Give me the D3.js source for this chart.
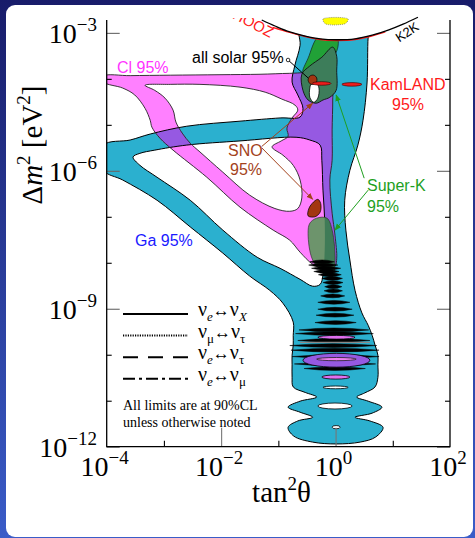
<!DOCTYPE html>
<html>
<head>
<meta charset="utf-8">
<script src="https://cdn.jsdelivr.net/npm/d3@7"></script>
<style>
  html, body { margin: 0; padding: 0; background: #1b1f6e; }
  svg { display: block; }
</style>
</head>
<body>
<svg id="chart" width="475" height="538"></svg>
<script>
// All region outlines are [log10 tan^2(theta), log10 dm^2] pairs
const GA_OUTER = [[-0.62,-2.83],[0.60,-2.83],[0.57,-3.09],[0.55,-4.09],[0.48,-4.90],[0.39,-5.44],[0.25,-5.99],[0.16,-6.64],[0.18,-7.29],[0.25,-7.94],[0.34,-8.60],[0.46,-9.09],[0.57,-9.36],[0.64,-9.58],[0.69,-9.79],[0.74,-10.01],[0.74,-10.22],[0.74,-10.49],[0.69,-10.70],[0.51,-10.83],[0.37,-10.92],[0.57,-11.01],[0.81,-11.14],[0.64,-11.27],[0.34,-11.36],[0.60,-11.44],[0.83,-11.58],[0.70,-11.79],[0.43,-11.90],[0.01,-11.94],[-0.40,-11.90],[-0.73,-11.77],[-0.83,-11.58],[-0.66,-11.44],[-0.40,-11.36],[-0.62,-11.25],[-0.83,-11.14],[-0.62,-11.01],[-0.33,-10.92],[-0.53,-10.82],[-0.74,-10.70],[-0.76,-10.49],[-0.76,-10.22],[-0.76,-10.01],[-0.74,-9.79],[-0.74,-9.58],[-0.74,-9.29],[-0.92,-8.88],[-1.15,-8.60],[-1.50,-8.29],[-1.97,-7.79],[-2.54,-7.22],[-3.12,-6.64],[-3.72,-6.20],[-4.05,-5.99],[-4.05,-5.44],[-3.59,-5.33],[-3.24,-5.20],[-2.60,-5.03],[-1.67,-4.92],[-0.97,-4.85],[-0.62,-4.83],[-0.57,-4.64],[-0.66,-4.35],[-0.76,-4.07],[-0.71,-3.70],[-0.62,-3.27]]
const GA_HOLE = [[-3.54,-5.70],[-3.42,-5.88],[-3.12,-6.14],[-2.54,-6.64],[-1.97,-7.29],[-1.37,-7.88],[-0.97,-8.12],[-0.62,-8.36],[-0.40,-8.51],[-0.27,-8.47],[-0.22,-8.27],[-0.19,-7.73],[-0.19,-7.07],[-0.22,-6.42],[-0.24,-5.77],[-0.27,-5.44],[-0.45,-5.33],[-0.69,-5.27],[-1.67,-5.35],[-2.60,-5.44],[-3.16,-5.55],[-3.42,-5.62]]

const CL_OUTER = [[-4.05,-3.94],[-3.59,-3.93],[-2.89,-3.92],[-2.02,-3.91],[-1.32,-3.90],[-0.80,-3.88],[-0.27,-3.88],[-0.06,-4.03],[-0.05,-4.46],[-0.06,-5.11],[-0.06,-5.77],[-0.10,-6.20],[-0.06,-6.92],[-0.01,-7.40],[0.02,-7.90],[-0.01,-8.07],[-0.19,-8.12],[-0.40,-8.03],[-0.62,-7.77],[-0.80,-7.51],[-1.09,-7.29],[-1.67,-6.79],[-2.25,-6.14],[-2.84,-5.55],[-3.07,-5.29],[-3.21,-5.05],[-3.24,-4.90],[-3.33,-4.64],[-3.51,-4.35],[-3.72,-4.20],[-4.05,-4.07]]
const CL_HOLE = [[-3.33,-4.14],[-2.89,-4.12],[-2.37,-4.12],[-1.67,-4.18],[-1.23,-4.29],[-0.94,-4.44],[-0.71,-4.57],[-0.66,-4.68],[-0.76,-4.85],[-0.85,-5.07],[-0.83,-5.25],[-0.95,-5.35],[-1.11,-5.48],[-0.92,-5.66],[-0.74,-5.88],[-0.62,-6.20],[-0.59,-6.59],[-0.66,-6.82],[-0.80,-6.88],[-1.06,-6.82],[-1.50,-6.53],[-1.97,-6.03],[-2.37,-5.59],[-2.54,-5.40],[-2.68,-5.18],[-2.79,-4.94],[-2.84,-4.68],[-2.98,-4.42],[-3.16,-4.25]]

const SUPERK_TOP = [[-0.29,-3.07],[0.02,-3.07],[0.01,-3.42],[-0.27,-3.64],[-0.57,-3.85],[-0.48,-3.55]]
const SOLAR_LMA = [[-0.05,-3.31],[0.02,-3.51],[0.02,-3.81],[0.01,-4.25],[-0.10,-4.40],[-0.22,-4.46],[-0.34,-4.53],[-0.48,-4.46],[-0.57,-4.25],[-0.59,-3.90],[-0.45,-3.72],[-0.24,-3.53]]
const SUPERK_LOW = [[-0.33,-7.03],[-0.15,-7.03],[-0.06,-7.29],[-0.01,-8.01],[-0.06,-8.31],[-0.19,-8.23],[-0.40,-7.94],[-0.48,-7.36],[-0.45,-7.14]]
const SNO_UPPER = [[-0.48,-4.03],[-0.45,-3.94],[-0.38,-3.92],[-0.33,-3.98],[-0.34,-4.09],[-0.43,-4.12]]
const SNO_GAP = [[-0.43,-4.12],[-0.34,-4.07],[-0.29,-4.20],[-0.31,-4.42],[-0.38,-4.51],[-0.45,-4.40],[-0.45,-4.20]]
const SNO_LOWER = [[-0.41,-6.71],[-0.31,-6.62],[-0.26,-6.71],[-0.27,-6.90],[-0.36,-7.00],[-0.48,-6.98],[-0.47,-6.83]]
const CHOOZ_TOP = [[-0.22,-2.70],[0.22,-2.70],[0.18,-2.79],[0.08,-2.82],[-0.13,-2.82],[-0.19,-2.79]]

// KamLAND islands: [tan lo, tan hi, dm]
const KAMLAND = [[-0.41,-0.08,-4.10],[0.11,0.46,-4.12]]

// vacuum oscillation streaks: [tan lo, tan hi, dm]
const VACUUM_STREAKS = [[-0.45,-0.02,-7.98],[-0.47,0.04,-8.05],[-0.42,0.09,-8.12],[-0.38,0.06,-8.19],[-0.30,0.10,-8.26],[-0.24,0.12,-8.34],[-0.22,0.13,-8.43],[-0.19,0.11,-8.52],[-0.20,0.12,-8.61],[-0.26,0.16,-8.72],[-0.31,0.25,-8.86],[-0.31,0.29,-9.01],[-0.34,0.32,-9.14],[-0.36,0.36,-9.30],[-0.64,0.58,-9.46],[-0.70,0.66,-9.54],[-0.66,0.60,-9.69],[-0.80,0.72,-9.80],[-0.78,0.76,-9.90],[-0.76,0.76,-10.04],[-0.72,0.70,-10.20],[-0.55,0.52,-10.30]]
// vacuum islands: [tan lo, tan hi, dm hi, dm lo]
const VACUUM_CL = [[-0.31,0.34,-9.58,-9.66],[-0.57,0.60,-9.97,-10.27],[-0.24,0.25,-10.44,-10.53]]
const VACUUM_CL_CORE = [[-0.33,0.36,-10.06,-10.13]]
const VACUUM_GAPS = [[-0.22,0.22,-10.68,-10.74],[-0.31,0.29,-11.05,-11.18],[-0.06,0.08,-11.54,-11.61]]
const VACUUM_GRAY = [[-0.62,0.60,-9.73]]

// reactor / accelerator limits
const K2K_LINE = [[-1.29,-2.72],[-1.06,-2.85],[-0.80,-2.98],[-0.53,-3.07],[-0.27,-3.13],[0.02,-3.15],[0.34,-3.13],[0.64,-3.05],[0.92,-2.94],[1.18,-2.81],[1.44,-2.66]]
const CHOOZ_LINE = [[-1.10,-2.88],[-0.80,-2.99],[-0.53,-3.08],[-0.27,-3.145],[0.02,-3.165],[0.34,-3.145],[0.64,-3.065],[0.87,-2.98]]

// arrows: [from tan, from dm, to tan, to dm]
const ARROWS_SOLAR = [[-0.83,-3.59,-0.48,-3.98]]
const ARROWS_SNO = [[-1.29,-5.47,-0.40,-4.53],[-1.29,-5.50,-0.40,-6.62]]
const ARROWS_SUPERK = [[0.50,-6.16,0.01,-4.35],[0.57,-6.42,-0.01,-7.29]]

const Y_DECADES = [-12,-11,-10,-9,-8,-7,-6,-5,-4,-3]
const Y_LABELS = [-12,-9,-6,-3]
const X_MINOR = [-3,-1,1]
const X_LONG = [-2,0]
const X_LABELS = [-4,-2,0,2]

const LEGEND_ROWS = [
    {a: "e", b: "X", italicB: true, dash: null},
    {a: "μ", b: "τ", italicB: false, dash: "1.2,1.2"},
    {a: "e", b: "τ", italicB: false, dash: "15,10"},
    {a: "e", b: "μ", italicB: false, dash: "12,4,3,4"}
]

const CYAN = "#2bb0cf"
const PINK = "#ff80ff"
const PURPLE = "#9659e2"
const SERIF = "'Liberation Serif', 'Times New Roman', serif"
const SANS = "'Liberation Sans', Arial, sans-serif"

const X_SCALE = d3.scaleLog().domain([1e-4, 1e2]).range([106.7, 450])
const Y_SCALE = d3.scaleLog().domain([1e-12, Math.pow(10, -2.72)]).range([446.7, 20])
const px = e => X_SCALE(Math.pow(10, e))
const py = e => Y_SCALE(Math.pow(10, e))
const toPoint = p => [px(p[0]), py(p[1])]

const ring = d3.line().curve(d3.curveCatmullRomClosed.alpha(0.5))
const regionPath = (...rings) => rings.map(r => ring(r.map(toPoint))).join("")

// pointed lens shape for one oscillation streak
function lens(d, h) {
    const x0 = px(d[0]), x1 = px(d[1]), y = py(d[2]), xm = (x0 + x1) / 2
    return `M${x0},${y}Q${xm},${y - 2 * h} ${x1},${y}Q${xm},${y + 2 * h} ${x0},${y}Z`
}

const svg = d3.select("#chart")
const defs = svg.append("defs")

const grad = defs.append("linearGradient").attr("id", "frameGrad")
    .attr("x1", 0).attr("y1", 0).attr("x2", 0).attr("y2", 1)
grad.append("stop").attr("offset", "0%").attr("stop-color", "#181c6a")
grad.append("stop").attr("offset", "100%").attr("stop-color", "#3a5cc8")

svg.append("rect").attr("width", 475).attr("height", 538).attr("fill", "url(#frameGrad)")
svg.append("rect").attr("x", 6).attr("y", 5).attr("width", 467).attr("height", 532)
    .attr("rx", 9).attr("fill", "white")

defs.append("clipPath").attr("id", "plotClip").append("rect")
    .attr("x", 106.7).attr("y", 15).attr("width", 343.3).attr("height", 431.7)
defs.append("clipPath").attr("id", "textClip").append("rect")
    .attr("x", 106.7).attr("y", 18).attr("width", 343.3).attr("height", 100)
defs.append("clipPath").attr("id", "gaClip").append("path")
    .attr("d", regionPath(GA_OUTER, GA_HOLE)).attr("clip-rule", "evenodd")

function addArrowHead(id, color) {
    defs.append("marker").attr("id", id)
        .attr("viewBox", "0 0 10 10").attr("refX", 9).attr("refY", 5)
        .attr("markerWidth", 7).attr("markerHeight", 7).attr("orient", "auto")
        .append("path").attr("d", "M0,1L10,5L0,9z").attr("fill", color)
}
addArrowHead("arrowSno", "#a3421c")
addArrowHead("arrowSk", "#1f9f1f")

const plot = svg.append("g").attr("clip-path", "url(#plotClip)")

// Ga and Cl regions
const gaD = regionPath(GA_OUTER, GA_HOLE)
const clD = regionPath(CL_OUTER, CL_HOLE)
plot.append("path").attr("d", gaD).attr("fill", CYAN).attr("fill-rule", "evenodd")
plot.append("path").attr("d", clD).attr("fill", PINK).attr("fill-rule", "evenodd")
plot.append("g").attr("clip-path", "url(#gaClip)")
    .append("path").attr("d", clD).attr("fill", PURPLE).attr("fill-rule", "evenodd")
plot.append("path").attr("d", gaD).attr("fill", "none").attr("stroke", "black").attr("stroke-width", 1)
plot.append("path").attr("d", clD).attr("fill", "none").attr("stroke", "#222").attr("stroke-width", 0.9)

// Super-K and all-solar regions
plot.append("path").attr("d", regionPath(SUPERK_TOP)).attr("fill", "#21a137")
    .attr("stroke", "#111").attr("stroke-width", 0.6)
plot.append("path").attr("d", regionPath(SOLAR_LMA)).attr("fill", "#3d7d5a")
    .attr("stroke", "#111").attr("stroke-width", 0.9)
plot.append("path").attr("d", regionPath(SUPERK_LOW)).attr("fill", "#6d946c")
plot.append("g").attr("clip-path", "url(#gaClip)")
    .append("path").attr("d", regionPath(SUPERK_LOW)).attr("fill", "#3f7b57")
plot.append("path").attr("d", regionPath(SUPERK_LOW)).attr("fill", "none")
    .attr("stroke", "#333").attr("stroke-width", 0.7)

// vacuum oscillation islands
plot.append("g").selectAll("path").data(VACUUM_STREAKS).join("path")
    .attr("d", d => lens(d, 1.9))
    .attr("fill", "black").attr("stroke", "black").attr("stroke-width", 0.5)

plot.append("g").selectAll("line").data(VACUUM_GRAY).join("line")
    .attr("x1", d => px(d[0])).attr("x2", d => px(d[1]))
    .attr("y1", d => py(d[2])).attr("y2", d => py(d[2]))
    .attr("stroke", "#8a8a8a").attr("stroke-width", 1.2)

plot.append("g").selectAll("ellipse").data(VACUUM_CL).join("ellipse")
    .attr("cx", d => (px(d[0]) + px(d[1])) / 2)
    .attr("cy", d => (py(d[2]) + py(d[3])) / 2)
    .attr("rx", d => (px(d[1]) - px(d[0])) / 2)
    .attr("ry", d => (py(d[3]) - py(d[2])) / 2)
    .attr("fill", (d, i) => i === 1 ? PURPLE : "#e070f0")
    .attr("stroke", "black").attr("stroke-width", 0.8)
plot.append("g").selectAll("ellipse").data(VACUUM_CL_CORE).join("ellipse")
    .attr("cx", d => (px(d[0]) + px(d[1])) / 2)
    .attr("cy", d => (py(d[2]) + py(d[3])) / 2)
    .attr("rx", d => (px(d[1]) - px(d[0])) / 2)
    .attr("ry", d => (py(d[3]) - py(d[2])) / 2)
    .attr("fill", "#ee80f0").attr("stroke", "#222").attr("stroke-width", 0.8)
plot.append("g").selectAll("ellipse").data(VACUUM_GAPS).join("ellipse")
    .attr("cx", d => (px(d[0]) + px(d[1])) / 2)
    .attr("cy", d => (py(d[2]) + py(d[3])) / 2)
    .attr("rx", d => (px(d[1]) - px(d[0])) / 2)
    .attr("ry", d => (py(d[3]) - py(d[2])) / 2)
    .attr("fill", "white")
    .attr("stroke", "black").attr("stroke-width", 0.8)

// SNO and KamLAND
plot.append("path").attr("d", regionPath(SNO_GAP)).attr("fill", "white")
    .attr("stroke", "black").attr("stroke-width", 0.8)
plot.append("path").attr("d", regionPath(SNO_UPPER)).attr("fill", "#a33612")
    .attr("stroke", "black").attr("stroke-width", 0.7)
plot.append("path").attr("d", regionPath(SNO_LOWER)).attr("fill", "#a33612")
    .attr("stroke", "black").attr("stroke-width", 0.7)
plot.append("g").selectAll("ellipse").data(KAMLAND).join("ellipse")
    .attr("cx", d => (px(d[0]) + px(d[1])) / 2)
    .attr("cy", d => py(d[2]))
    .attr("rx", d => (px(d[1]) - px(d[0])) / 2)
    .attr("ry", 1.8)
    .attr("fill", "#ee1c1c").attr("stroke", "#300").attr("stroke-width", 0.6)

// area excluded by K2K / CHOOZ
const curveY = d3.line().curve(d3.curveCatmullRom)
const maskArea = d3.area().curve(d3.curveCatmullRom)
    .x(d => px(d[0])).y0(0).y1(d => py(d[1]))
plot.append("path").attr("d", maskArea(K2K_LINE)).attr("fill", "white")
plot.append("path").attr("d", curveY(CHOOZ_LINE.map(toPoint)))
    .attr("fill", "none").attr("stroke", "#ff1a1a").attr("stroke-width", 1.4)
plot.append("path").attr("d", curveY(K2K_LINE.map(toPoint)))
    .attr("fill", "none").attr("stroke", "black").attr("stroke-width", 1.3)
plot.append("path").attr("d", regionPath(CHOOZ_TOP)).attr("fill", "#ffff00")
    .attr("stroke", "#555").attr("stroke-width", 0.6).attr("stroke-dasharray", "1,1")

svg.append("g").attr("clip-path", "url(#textClip)")
    .append("text").attr("transform", "translate(270,38) rotate(28)")
    .attr("text-anchor", "end").attr("font-family", SANS).attr("font-size", 15)
    .attr("fill", "#ff1a1a").text("CHOOZ")
plot.append("text").attr("transform", "translate(407,32) rotate(-33)")
    .attr("text-anchor", "middle").attr("dominant-baseline", "central")
    .attr("font-family", SANS).attr("font-size", 13).attr("fill", "black").text("K2K")

// arrows
function drawArrows(data, color, marker) {
    svg.append("g").selectAll("line").data(data).join("line")
        .attr("x1", d => px(d[0])).attr("y1", d => py(d[1]))
        .attr("x2", d => px(d[2])).attr("y2", d => py(d[3]))
        .attr("stroke", color).attr("stroke-width", 1)
        .attr("marker-end", marker ? `url(#${marker})` : null)
}
drawArrows(ARROWS_SOLAR, "black", null)
svg.append("circle").attr("cx", px(ARROWS_SOLAR[0][0])).attr("cy", py(ARROWS_SOLAR[0][1]))
    .attr("r", 1.8).attr("fill", "white").attr("stroke", "black").attr("stroke-width", 0.8)
drawArrows(ARROWS_SNO, "#a3421c", "arrowSno")
drawArrows(ARROWS_SUPERK, "#1f9f1f", "arrowSk")

// region labels
const labels = [
    {t: "Cl 95%", x: 117, y: 73, c: "#ff33ff"},
    {t: "all solar 95%", x: 192, y: 63, c: "black"},
    {t: "KamLAND", x: 370, y: 90, c: "#ff1a1a"},
    {t: "95%", x: 392, y: 110, c: "#ff1a1a"},
    {t: "SNO", x: 228, y: 156, c: "#a3421c"},
    {t: "95%", x: 230, y: 175, c: "#a3421c"},
    {t: "Super-K", x: 367, y: 191, c: "#1f9f1f"},
    {t: "95%", x: 367, y: 212, c: "#1f9f1f"},
    {t: "Ga 95%", x: 135, y: 246, c: "#1a1aff"}
]
svg.append("g").selectAll("text").data(labels).join("text")
    .attr("x", d => d.x).attr("y", d => d.y)
    .attr("font-family", SANS).attr("font-size", 16)
    .attr("fill", d => d.c).text(d => d.t)

// legend
const legend = svg.append("g")
const rowY = i => 314 + i * 21.6
legend.selectAll("line").data(LEGEND_ROWS).join("line")
    .attr("x1", 123).attr("x2", 188)
    .attr("y1", (d, i) => rowY(i)).attr("y2", (d, i) => rowY(i))
    .attr("stroke", "black").attr("stroke-width", 2)
    .attr("stroke-dasharray", d => d.dash)
legend.selectAll("text").data(LEGEND_ROWS).join("text")
    .attr("x", 198).attr("y", (d, i) => rowY(i) + 2)
    .attr("font-family", SERIF).attr("font-size", 20)
    .each(function(d) {
        const t = d3.select(this)
        t.append("tspan").text("ν")
        t.append("tspan").attr("dy", 5).attr("font-size", 13)
            .attr("font-style", d.a === "e" ? "italic" : "normal").text(d.a)
        t.append("tspan").attr("dy", -5).attr("font-size", 17).text("↔")
        t.append("tspan").text("ν")
        t.append("tspan").attr("dy", 5).attr("font-size", 13)
            .attr("font-style", d.italicB ? "italic" : "normal").text(d.b)
    })
svg.append("text").attr("x", 123).attr("y", 410).attr("font-family", SERIF).attr("font-size", 14)
    .text("All limits are at 90%CL")
svg.append("text").attr("x", 123).attr("y", 427).attr("font-family", SERIF).attr("font-size", 14)
    .text("unless otherwise noted")

// axes
const axes = svg.append("g")
function tickAxis(axis, transform, values, size, color) {
    const g = axes.append("g").attr("transform", transform)
        .call(axis.tickValues(values.map(v => Math.pow(10, v))).tickSizeInner(-size).tickSizeOuter(0).tickFormat(""))
    g.select(".domain").remove()
    g.selectAll(".tick line").attr("stroke", color).attr("stroke-width", 1.1)
}
const yMinor = Y_DECADES.filter(v => !Y_LABELS.includes(v))
tickAxis(d3.axisLeft(Y_SCALE), "translate(106.7,0)", yMinor, 5, "black")
tickAxis(d3.axisLeft(Y_SCALE), "translate(106.7,0)", Y_LABELS, 13, "#666")
tickAxis(d3.axisRight(Y_SCALE), "translate(450,0)", yMinor, 5, "black")
tickAxis(d3.axisRight(Y_SCALE), "translate(450,0)", Y_LABELS, 13, "#666")
tickAxis(d3.axisBottom(X_SCALE), "translate(0,446.7)", X_MINOR, 6, "black")
tickAxis(d3.axisBottom(X_SCALE), "translate(0,446.7)", X_LONG, 19, "#777")

axes.append("path").attr("d", "M106.7,20V446.7H450V20")
    .attr("fill", "none").attr("stroke", "black").attr("stroke-width", 1.3)

axes.selectAll("text.ylab").data(Y_LABELS).join("text").attr("class", "ylab")
    .attr("x", 97).attr("y", d => py(d) + 10.5)
    .attr("text-anchor", "end").attr("font-family", SERIF).attr("font-size", 28)
    .each(function(d) {
        const t = d3.select(this)
        t.append("tspan").text("10")
        t.append("tspan").attr("dy", -12).attr("font-size", 19).text("−" + (-d))
    })
axes.selectAll("text.xlab").data(X_LABELS).join("text").attr("class", "xlab")
    .attr("x", d => px(d) - 2).attr("y", 476)
    .attr("text-anchor", "middle").attr("font-family", SERIF).attr("font-size", 28)
    .each(function(d) {
        const t = d3.select(this)
        t.append("tspan").text("10")
        t.append("tspan").attr("dy", -12).attr("font-size", 19).text(d < 0 ? "−" + (-d) : String(d))
    })

const xTitle = axes.append("text").attr("x", 281.5).attr("y", 502)
    .attr("text-anchor", "middle").attr("font-family", SERIF).attr("font-size", 29)
xTitle.append("tspan").text("tan")
xTitle.append("tspan").attr("dy", -12).attr("font-size", 19).text("2")
xTitle.append("tspan").attr("dy", 12).text("θ")

const yTitle = axes.append("text").attr("transform", "translate(42,145) rotate(-90)")
    .attr("text-anchor", "middle").attr("font-family", SERIF).attr("font-size", 29)
yTitle.append("tspan").text("Δ")
yTitle.append("tspan").attr("font-style", "italic").text("m")
yTitle.append("tspan").attr("dy", -12).attr("font-size", 19).text("2")
yTitle.append("tspan").attr("dy", 12).text(" [eV")
yTitle.append("tspan").attr("dy", -12).attr("font-size", 19).text("2")
yTitle.append("tspan").attr("dy", 12).text("]")
</script>
</body>
</html>
